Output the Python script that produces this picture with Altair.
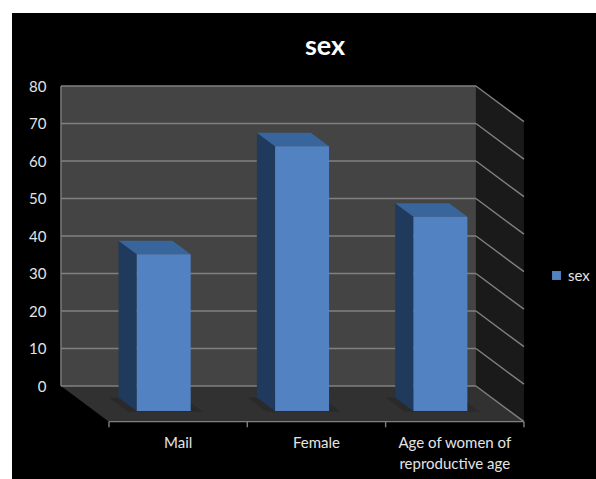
import altair as alt
import pandas as pd

# Chart content
series_name = "sex"
categories = ["Mail", "Female", "Age of women of\nreproductive age"]
values = [41.8, 70.6, 51.8]
axis_ticks = [0, 10, 20, 30, 40, 50, 60, 70, 80]

# Oblique projection, in data units: walking from the front of the floor to
# the back wall moves a point left along x and up along y.
DEPTH_X = 0.347
DEPTH_Y = 9.5
BAR_WIDTH = 0.39
BAR_FRONT = 0.30
BAR_BACK = 0.68

# One data unit is 138.33 px along x and 3.75 px per value along y
VIEW_W = 584
VIEW_H = 466
X_LEFT = -0.701
Y_TOP = 99.47
X_SCALE = alt.Scale(domain=[X_LEFT, X_LEFT + VIEW_W / 138.33], nice=False, zero=False)
Y_SCALE = alt.Scale(domain=[Y_TOP - VIEW_H / 3.75, Y_TOP], nice=False, zero=False)

WALL = "#444444"
FLOOR = "#313131"
SIDE_WALL = "#1a1a1a"
GRID = "#808080"
BAR_FRONT_COLOR = "#5282c2"
BAR_SIDE_COLOR = "#1f3a5c"
BAR_TOP_COLOR = "#38659c"
TEXT = "#e4e4e4"
FONT = "Lato"

Y_AXIS = alt.Axis(
    values=axis_ticks,
    orient="left",
    offset=-36,
    title=None,
    domain=False,
    ticks=False,
    grid=False,
    labelPadding=2,
    labelFont=FONT,
    labelFontSize=15,
    labelColor=TEXT,
    zindex=1,
)


def px(cat, depth):
    return cat - DEPTH_X * depth


def py(value, depth):
    return value - DEPTH_Y * (1 - depth)


def x_enc(field="x", **kw):
    return alt.X(f"{field}:Q", scale=X_SCALE, axis=None, **kw)


def y_enc(field="y", **kw):
    return alt.Y(f"{field}:Q", scale=Y_SCALE, axis=Y_AXIS, **kw)


# Back wall
wall_df = pd.DataFrame([{"x": px(0, 1), "x2": px(3, 1), "y": 0, "y2": axis_ticks[-1]}])
wall = alt.Chart(wall_df).mark_rect(color=WALL).encode(
    x=x_enc(), x2="x2:Q", y=y_enc(), y2="y2:Q"
)

# Side wall and floor parallelograms
side_df = pd.DataFrame(
    [
        {"x": px(3, 1), "y": py(0, 1), "y2": py(axis_ticks[-1], 1)},
        {"x": px(3, 0), "y": py(0, 0), "y2": py(axis_ticks[-1], 0)},
    ]
)
side_wall = alt.Chart(side_df).mark_area(orient="vertical", color=SIDE_WALL).encode(
    x=x_enc(), y=y_enc(stack=None), y2="y2:Q"
)

floor_df = pd.DataFrame(
    [
        {"y": py(0, 1), "x": px(0, 1), "x2": px(3, 1)},
        {"y": py(0, 0), "x": px(0, 0), "x2": px(3, 0)},
    ]
)
floor = alt.Chart(floor_df).mark_area(orient="horizontal", color=FLOOR).encode(
    y=y_enc(), x=x_enc(stack=None), x2="x2:Q"
)

# Gridlines: across the back wall, then diagonally down the side wall
grid_rows = []
for t in axis_ticks:
    grid_rows.append({"x": px(0, 1), "x2": px(3, 1), "y": py(t, 1), "y2": py(t, 1)})
    grid_rows.append({"x": px(3, 1), "x2": px(3, 0), "y": py(t, 1), "y2": py(t, 0)})
# Wall and floor outline
grid_rows.append({"x": px(0, 1), "x2": px(0, 1), "y": py(0, 1), "y2": py(axis_ticks[-1], 1)})
grid_rows.append({"x": px(0, 0), "x2": px(3, 0), "y": py(0, 0), "y2": py(0, 0)})
grid = alt.Chart(pd.DataFrame(grid_rows)).mark_rule(color=GRID, strokeWidth=1.4).encode(
    x=x_enc(), x2="x2:Q", y=y_enc(), y2="y2:Q"
)

# Category tick marks hanging below the front edge of the floor
tick_df = pd.DataFrame(
    [{"x": i, "y": py(0, 0), "y2": py(0, 0) - 1.5} for i in range(len(categories) + 1)]
)
cat_ticks = alt.Chart(tick_df).mark_rule(color=GRID, strokeWidth=1.4).encode(
    x=x_enc(), y=y_enc(), y2="y2:Q"
)

# Bar geometry derived from the values
front_rows, side_rows, top_rows, shadow_rows = [], [], [], []
for i, (cat, val) in enumerate(zip(categories, values)):
    c = i + 0.5
    left = c - BAR_WIDTH / 2
    right = c + BAR_WIDTH / 2
    front_rows.append(
        {
            "category": cat,
            "series": series_name,
            "x": px(left, BAR_FRONT),
            "x2": px(right, BAR_FRONT),
            "y": py(0, BAR_FRONT),
            "y2": py(0, BAR_FRONT) + val,
        }
    )
    for depth in (BAR_BACK, BAR_FRONT):
        side_rows.append(
            {"bar": i, "x": px(left, depth), "y": py(0, depth), "y2": py(0, depth) + val}
        )
        top_rows.append(
            {"bar": i, "y": py(0, depth) + val, "x": px(left, depth), "x2": px(right, depth)}
        )
    for depth in (BAR_BACK, BAR_FRONT - 0.02):
        shadow_rows.append(
            {"bar": i, "y": py(0, depth), "x": px(left - 0.07, depth), "x2": px(right + 0.08, depth)}
        )

shadows = alt.Chart(pd.DataFrame(shadow_rows)).mark_area(
    orient="horizontal", color="#000000", opacity=0.14
).encode(y=y_enc(), x=x_enc(stack=None), x2="x2:Q", detail="bar:N")

bar_sides = alt.Chart(pd.DataFrame(side_rows)).mark_area(
    orient="vertical", color=BAR_SIDE_COLOR
).encode(x=x_enc(), y=y_enc(stack=None), y2="y2:Q", detail="bar:N")

bar_tops = alt.Chart(pd.DataFrame(top_rows)).mark_area(
    orient="horizontal", color=BAR_TOP_COLOR
).encode(y=y_enc(), x=x_enc(stack=None), x2="x2:Q", detail="bar:N")

bar_fronts = alt.Chart(pd.DataFrame(front_rows)).mark_rect().encode(
    x=x_enc(),
    x2="x2:Q",
    y=y_enc(),
    y2="y2:Q",
    color=alt.Color(
        "series:N",
        scale=alt.Scale(domain=[series_name], range=[BAR_FRONT_COLOR]),
        legend=alt.Legend(
            title=None,
            orient="none",
            legendX=537,
            legendY=255,
            symbolType="square",
            symbolSize=80,
            symbolStrokeWidth=0,
            labelFont=FONT,
            labelFontSize=15,
            labelColor=TEXT,
            labelOffset=4,
        ),
    ),
)

# Category labels under the floor
label_df = pd.DataFrame(
    [{"x": i + 0.5, "y": py(0, 0) - 5.6, "label": c} for i, c in enumerate(categories)]
)
labels = alt.Chart(label_df).mark_text(
    font=FONT,
    fontSize=15,
    color=TEXT,
    align="center",
    baseline="middle",
    lineBreak="\n",
    lineHeight=21,
).encode(x=x_enc(), y=y_enc(), text="label:N")

chart = (
    alt.layer(
        wall, side_wall, floor, grid, cat_ticks, shadows,
        bar_sides, bar_tops, bar_fronts, labels,
    )
    .properties(
        width=VIEW_W,
        height=VIEW_H,
        padding={"left": 12, "top": 13, "right": 0, "bottom": 0},
        autosize=alt.AutoSizeParams(type="none"),
        background="#ffffff",
        title=alt.Title(
            "sex",
            font=FONT,
            fontSize=27,
            fontWeight="bold",
            color="#ffffff",
            anchor="middle",
            dx=21,
            offset=-48,
        ),
    )
    .configure_view(fill="#000000", stroke=None)
)

chart.save("out.html", embed_options={"renderer": "svg", "actions": False})
